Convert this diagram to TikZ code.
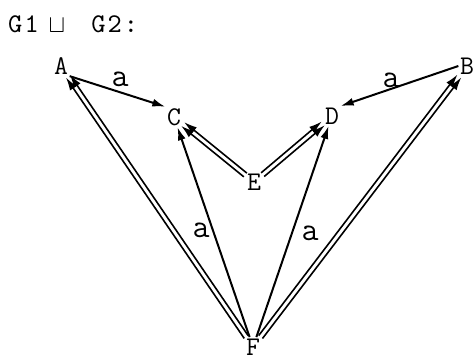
\documentclass[tikz,border=0pt]{standalone}
\usepackage{fontspec}
\newfontfamily\ttl{lmmono10-regular.otf}[LetterSpace=8]
\usetikzlibrary{arrows.meta,calc}
\begin{document}
\begin{tikzpicture}[x=1pt,y=-1pt,
  vtx/.style={font=\fontsize{27}{30}\selectfont\ttfamily, inner sep=1.5pt},
  elab/.style={font=\fontsize{33}{36}\selectfont\ttfamily, inner sep=0pt},
  arr/.style={line width=2pt, -{Latex[length=13pt,width=8pt]}},
  darr/.style={line width=1.6pt, -{Latex[length=13pt,width=8pt]}},
]
\useasboundingbox (0,0) rectangle (475,360);
\node[anchor=west, inner sep=0pt, font=\fontsize{27}{30}\selectfont\ttl] (title) at (8,24) {G1\hspace{10pt}$\sqcup$\hspace{26pt}G2:};
\node[vtx] (A) at (61,66) {A};
\node[vtx] (B) at (467,66) {B};
\node[vtx] (C) at (174,117) {C};
\node[vtx] (D) at (332,116) {D};
\node[vtx] (E) at (254,182) {E};
\node[vtx] (F) at (253,347) {F};
% single arrows
\draw[arr] (A.south east) -- (C.north west);
\draw[arr] (B.west) -- (D.north east);
\draw[arr] (F) -- (C);
\draw[arr] (F) -- (D);
% double arrows
\foreach \s/\t in {F/A, F/B, E/C, E/D}{
  \path (\s) -- (\t) coordinate[pos=0] (\s\t0) coordinate[pos=1] (\s\t1);
  \draw[darr] ($(\s\t0)!2.4pt!90:(\s\t1)$) -- ($(\s\t1)!2.4pt!-90:(\s\t0)$);
  \draw[darr] ($(\s\t0)!2.4pt!-90:(\s\t1)$) -- ($(\s\t1)!2.4pt!90:(\s\t0)$);
}
% labels
\node[elab] (l1) at (120,79) {a};
\node[elab] (l2) at (391,80) {a};
\node[elab] (l3) at (201,230) {a};
\node[elab] (l4) at (310,233) {a};
\end{tikzpicture}
\end{document}
